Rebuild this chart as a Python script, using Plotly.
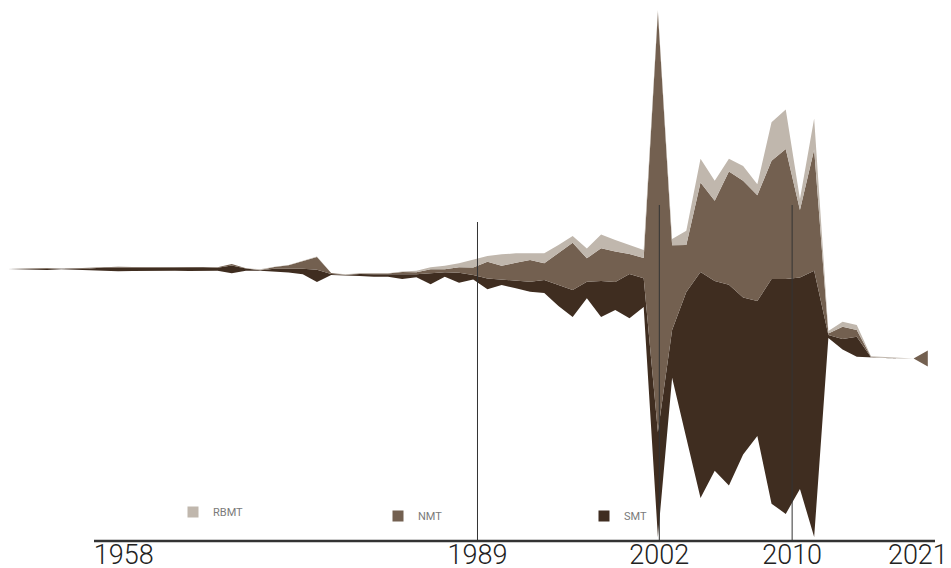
import numpy as np
import plotly.graph_objects as go

years = list(range(1956, 2022))
smt = [0, 0.4, 1.0, 1.4, 0.3, 1.0, 1.2, 3.5, 4.0, 3.6, 3.2, 3.6, 3.2, 3.6, 3.6, 3.0,
       7.8, 2.4, 0.5, 2.6, 3.8, 5.5, 12.2, 1.2, 0.3, 2.0, 2.4, 2.4, 4.5, 3.0, 11.0, 4.4,
       10.0, 4.5, 10.8, 5.7, 7.6, 10.0, 13.0, 21.0, 27.0, 16.6, 36.0, 28.0, 44.3, 28.7,
       105, 47.7, 146, 226, 189.8, 200.7, 157, 135, 224.6, 234.9, 211.6, 266.2,
       3, 10.5, 20, 0.5, 0, 0, 0, 0]
nmt = [0, 0.3, 0.5, 0.6, 0.2, 0.5, 0.4, 0.5, 0.5, 0.4, 0.4, 0.4, 0.3, 0.4, 0.3, 0.3,
       1.5, 0.3, 0.3, 1.8, 3.5, 7.5, 12.8, 1.0, 0.3, 0.5, 0.8, 1.0, 2.5, 2.0, 4.0, 3.0,
       5.4, 7.5, 16.8, 13.6, 18.0, 21.7, 16.7, 32.3, 47.3, 23.4, 32.7, 30.5, 20.0, 20.3,
       420, 84.7, 47, 89.5, 80.3, 113.2, 116.7, 105.7, 118.4, 130.1, 67.5, 121.2,
       1.5, 12.3, 6.7, 0.5, 0, 0, 0, 16]
rbmt = [0, 0, 0, 0, 0, 0, 0, 0, 0, 0, 0, 0, 0, 0, 0, 0,
        0, 0, 0.8, 0.3, 0.3, 0.3, 0.5, 0, 0.5, 0.2, 0.3, 0.3, 0.5, 1.5, 2.0, 3.6,
        4.0, 7.5, 5.7, 11.4, 9.4, 6.7, 10.0, 7.7, 6.7, 9.8, 13.8, 11.5, 9.0, 8.0,
        2, 6.3, 14.3, 23.7, 20, 12.7, 14.7, 11, 38.3, 39.4, 10.9, 31,
        2.5, 5, 5, 0.5, 1.2, 0.8, 0, 0]
# stream offset: midline of the stack per year (same units)
stream_mid = [1] * 16 + [1.3, 0.5, 0, 1, 1.3, 2.5, 0.8, -4, -4.8, -4.7, -5, -5,
              -5.3, -4, -5.8, -1.2, -3, 0.3, -2.7, 0.3, -0.8, -2.5, -3.2, -5.5,
              -6.5, -3.4, -5.8, -5, -11.7, -8.5, -3.5, -38.3, -64.3, -58.4, -55.8, -52.1,
              -40.2, -40.2, -43, -41.7, -74, -57.8, -64.5, -65.6, -70.8, -87, -87.5, -88, -88.5, -88.5]

series_names = ["SMT", "NMT", "RBMT"]
series_colors = ["#3f2d20", "#736050", "#c0b7ad"]

tick_labels = ["1958", "1989", "2002", "2010", "2021"]
tick_pos = [1964.4, 1989.3, 2002.1, 2011.45, 2020.3]
event_pos = [1989.3, 2002.1, 2011.45]

S = np.array([smt, nmt, rbmt], dtype=float)
total = S.sum(axis=0)
base = np.array(stream_mid) - total / 2
layers = [base]
for i in range(len(S)):
    layers.append(layers[-1] + S[i])
ymin = float(np.min(layers[0]))
ymax = float(np.max(layers[-1]))

fig = go.Figure()
fig.add_trace(go.Scatter(x=years, y=layers[0], mode="lines", line=dict(width=0),
                         showlegend=False, hoverinfo="skip"))
for i in range(len(S)):
    fig.add_trace(go.Scatter(x=years, y=layers[i + 1], mode="lines",
                             line=dict(width=0, color=series_colors[i]),
                             fill="tonexty", fillcolor=series_colors[i], showlegend=False,
                             name=series_names[i]))

legend_names = ["legend", "legend2", "legend3"]
for idx, i in enumerate([2, 1, 0]):
    fig.add_trace(go.Scatter(x=[None], y=[None], mode="markers",
                             marker=dict(symbol="square", size=11, color=series_colors[i], line=dict(width=0)),
                             name=series_names[i], legend=legend_names[idx]))

# page is offset by the 8px body margin
OFF = 8
W, H = 951 - OFF, 568 - OFF
plot_top, plot_bot = 10 - OFF, 537 - OFF
mt, mb = plot_top, H - plot_bot
ph = plot_bot - plot_top
ppy = (927.8 - 657.9) / 19
x0 = 2002 - (657.9 - OFF) / ppy
x1 = x0 + W / ppy

def py(page_y):
    return (plot_bot - (page_y - OFF)) / ph

def xyear(page_x):
    return x0 + (page_x - OFF) / ppy

legfont = dict(family="Roboto, sans-serif", size=11, color="#7a7a7a")
leg_common = dict(orientation="h", xanchor="left", yanchor="middle", font=legfont,
                  bgcolor="rgba(0,0,0,0)", borderwidth=0)

def legx(cx):
    return (cx - OFF - 19.5 + 1) / W

def legy(cy):
    return py(cy - 2)

shapes = []
tops = [222, 205, 205]
for e, t in zip(event_pos, tops):
    shapes.append(dict(type="line", xref="x", yref="paper", x0=e, x1=e, y0=py(541), y1=py(t),
                       line=dict(color="#333", width=1)))
shapes.append(dict(type="line", xref="x", yref="paper", x0=xyear(94), x1=xyear(935),
                   y0=py(541), y1=py(541), line=dict(color="#333", width=2.5)))

fig.update_layout(
    width=W, height=H,
    margin=dict(l=0, r=0, t=mt, b=mb, pad=0),
    paper_bgcolor="white", plot_bgcolor="white",
    xaxis=dict(range=[x0, x1], showgrid=False, zeroline=False, showline=False, ticks="",
               tickvals=tick_pos, ticktext=tick_labels, automargin=False,
               ticklabelstandoff=-1,
               tickfont=dict(family="Roboto, sans-serif", size=27, color="#222", weight=300)),
    yaxis=dict(range=[ymin, ymax], visible=False, automargin=False),
    legend=dict(x=legx(191.5), y=legy(514), **leg_common),
    legend2=dict(x=legx(396.5), y=legy(518), **leg_common),
    legend3=dict(x=legx(602.5), y=legy(518), **leg_common),
    shapes=shapes,
)
fig.write_html("out.html")
